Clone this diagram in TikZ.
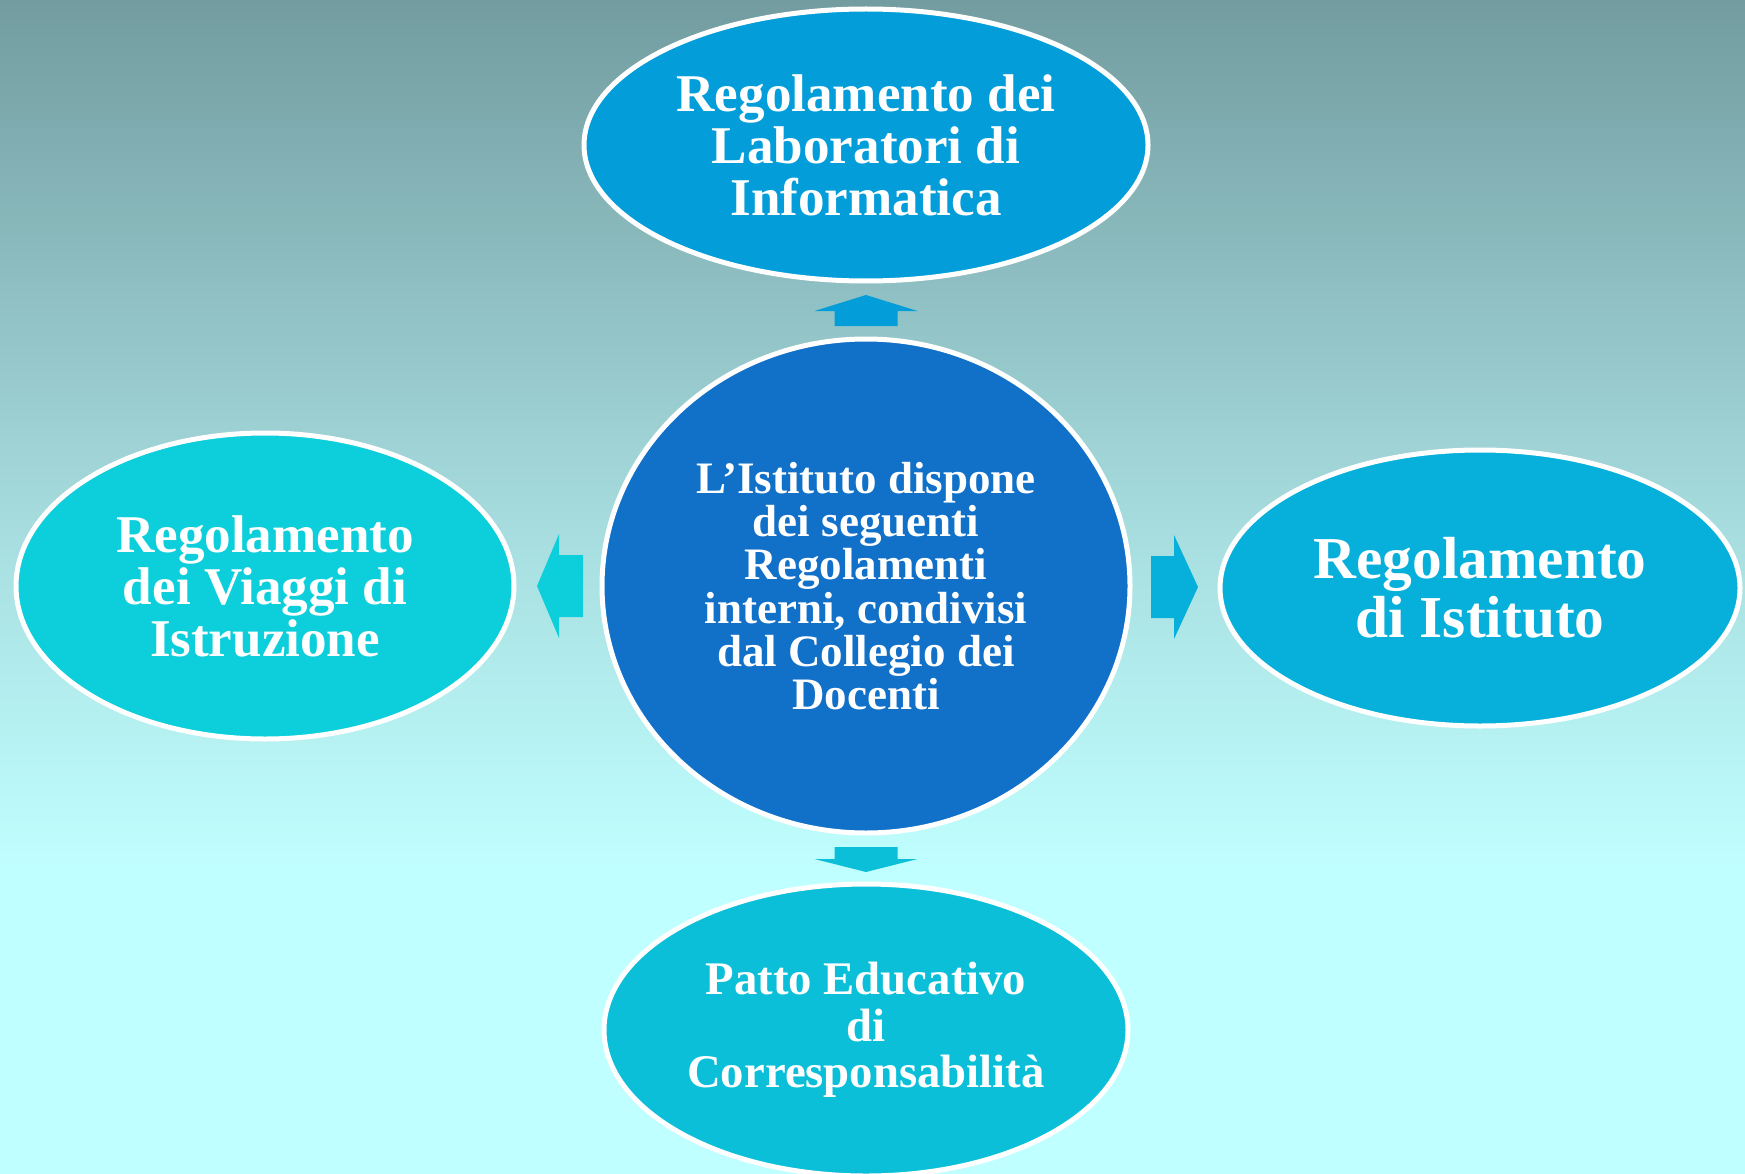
\documentclass[tikz,border=0pt]{standalone}
\usepackage{fontspec}
\setmainfont{Liberation Serif}
\usetikzlibrary{shapes.geometric,calc}

\definecolor{bgtop}{RGB}{114,156,160}
\definecolor{bgmid}{RGB}{168,222,224}
\definecolor{bgbot}{RGB}{192,255,255}
\definecolor{labblue}{RGB}{3,157,217}
\definecolor{corblue}{RGB}{17,112,200}
\definecolor{viacyan}{RGB}{13,207,219}
\definecolor{istcyan}{RGB}{6,176,219}
\definecolor{patcyan}{RGB}{11,191,217}

\pgfdeclareverticalshading{bgshade}{100bp}{color(0bp)=(bgbot); color(25bp)=(bgbot); color(38bp)=(bgbot); color(52bp)=(bgmid); color(75bp)=(bgtop); color(100bp)=(bgtop)}

\tikzset{
  bubble/.style={ellipse, draw=white, line width=0.5mm, text=white, align=center, inner sep=0pt},
}

\begin{document}
\begin{tikzpicture}[x=0.1mm, y=-0.1mm]
	\useasboundingbox (0,0) rectangle (1745,1174);
	\shade[shading=bgshade] (0,0) rectangle (1745,1174);
	% the five bubbles
	\node[bubble, fill=corblue, minimum width=52.8mm, minimum height=49.4mm,
		font=\bfseries\fontsize{12.8}{12.3}\selectfont] (regole) at (866,586)
		{L’Istituto dispone\\dei seguenti\\Regolamenti\\interni, condivisi\\dal Collegio dei\\Docenti};
	\node[bubble, fill=labblue, minimum width=56.4mm, minimum height=27.2mm,
		font=\bfseries\fontsize{15.1}{14.8}\selectfont] (lab) at (866,145)
		{Regolamento dei\\Laboratori di\\Informatica};
	\node[bubble, fill=viacyan, minimum width=49.8mm, minimum height=30.6mm,
		font=\bfseries\fontsize{15.1}{14.8}\selectfont] (viaggi) at (265,586)
		{Regolamento\\dei Viaggi di\\Istruzione};
	\node[bubble, fill=istcyan, minimum width=52mm, minimum height=27.6mm,
		font=\bfseries\fontsize{16.9}{16.8}\selectfont] (istituto) at (1480,588)
		{Regolamento\\di Istituto};
	\node[bubble, fill=patcyan, minimum width=52.4mm, minimum height=29.2mm,
		font=\bfseries\fontsize{13.3}{13.3}\selectfont] (patto) at (866,1030)
		{Patto Educativo\\di\\Corresponsabilità};
	% block arrows
	\coordinate (up) at ($(regole.north)!.5!(lab.south)$);
	\coordinate (down) at ($(regole.south)!.5!(patto.north)$);
	\coordinate (left) at ($(regole.west)!.5!(viaggi.east)$);
	\coordinate (right) at ($(regole.east)!.5!(istituto.west)$);
	\fill[labblue] (up) ++(-31.5,16) -- ++(0,-15) -- ++(-20,0) -- ++(51.5,-16)
		-- ++(51.5,16) -- ++(-20,0) -- ++(0,15) -- cycle;
	\fill[patcyan] (down) ++(-31.5,-11.5) -- ++(0,12) -- ++(-20,0) -- ++(51.5,13)
		-- ++(51.5,-13) -- ++(-20,0) -- ++(0,-12) -- cycle;
	\fill[viacyan] (left) ++(25,-31) -- ++(-24,0) -- ++(0,-21) -- ++(-22,52)
		-- ++(22,52) -- ++(0,-21) -- ++(24,0) -- cycle;
	\fill[istcyan] (right) ++(-24,-31) -- ++(23,0) -- ++(0,-21) -- ++(24,52)
		-- ++(-24,52) -- ++(0,-21) -- ++(-23,0) -- cycle;
\end{tikzpicture}
\end{document}
